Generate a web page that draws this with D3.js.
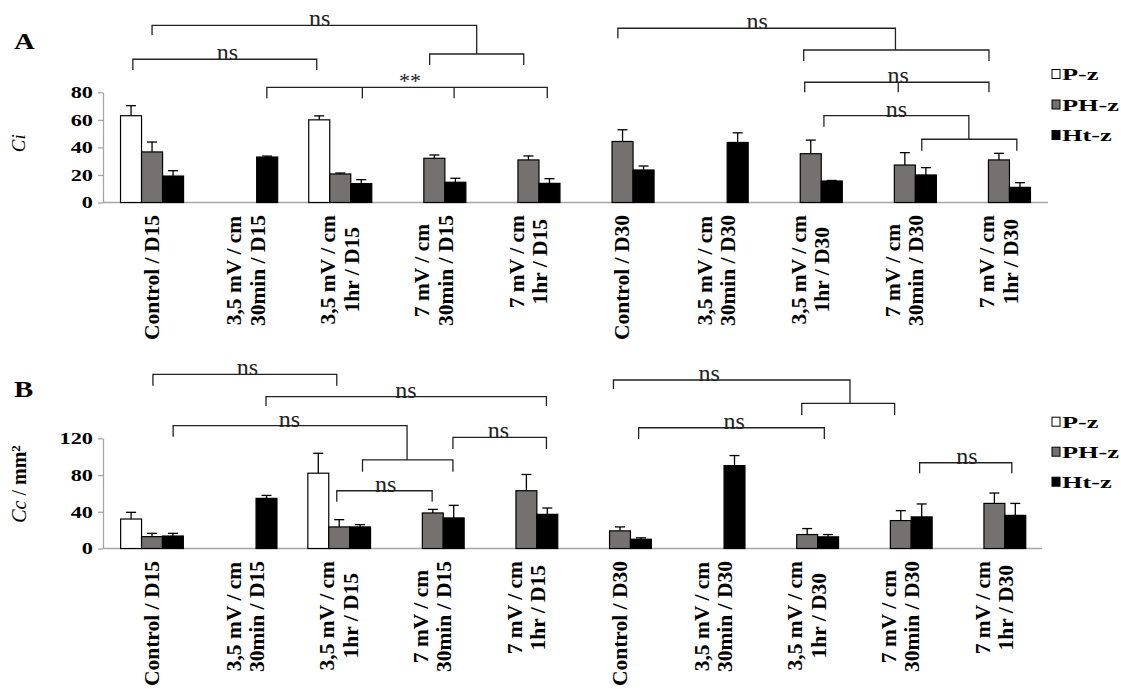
<!DOCTYPE html>
<html lang="en">
<head>
  <meta charset="utf-8">
  <script src="https://d3js.org/d3.v7.min.js"></script>
  <style>
    body { margin: 0; background: #fff; }
    text { font-family: "Liberation Serif", "Times New Roman", serif; fill: #000; }
  </style>
</head>
<body>
<script>
  var width = 1121,
      height = 689;

  // group labels, one array of lines per group
  var categories = [
    ["Control / D15"], ["3,5 mV / cm", "30min / D15"], ["3,5 mV / cm", "1hr / D15"],
    ["7 mV / cm", "30min / D15"], ["7 mV / cm", "1hr / D15"],
    ["Control / D30"], ["3,5 mV / cm", "30min / D30"], ["3,5 mV / cm", "1hr / D30"],
    ["7 mV / cm", "30min / D30"], ["7 mV / cm", "1hr / D30"]
  ];
  var seriesNames = ["P-z", "PH-z", "Ht-z"];
  var seriesColors = ["#ffffff", "#767171", "#000000"];

  // panel A : Ci
  var ciTicks = [0, 20, 40, 60, 80];
  var ciPz     = [63.0, null, 60.0, null, null, null, null, null, null, null];
  var ciPzErr  = [7.3, null, 2.9, null, null, null, null, null, null, null];
  var ciPhz    = [36.7, null, 20.7, 32.1, 30.9, 44.3, null, 35.4, 27.2, 30.9];
  var ciPhzErr = [7.2, null, 0.7, 2.4, 2.9, 8.5, null, 9.9, 9.0, 4.8];
  var ciHtz    = [19.2, 33.0, 13.7, 14.7, 13.9, 23.6, 43.6, 15.6, 20.0, 11.0];
  var ciHtzErr = [3.9, 0.7, 2.9, 2.9, 3.4, 2.9, 7.0, 0.4, 5.3, 3.4];

  // panel B : Cc / mm2
  var ccTicks = [0, 40, 80, 120];
  var ccPz     = [32.1, null, 82.0, null, null, null, null, null, null, null];
  var ccPzErr  = [7.3, null, 21.7, null, null, null, null, null, null, null];
  var ccPhz    = [12.9, null, 23.5, 38.7, 62.9, 19.2, null, 15.2, 30.4, 49.1];
  var ccPhzErr = [3.6, null, 7.9, 3.9, 17.7, 4.3, null, 6.5, 10.8, 11.3];
  var ccHtz    = [13.6, 54.6, 23.5, 33.3, 37.2, 10.1, 90.3, 12.7, 34.4, 36.1];
  var ccHtzErr = [2.9, 3.2, 2.5, 13.7, 6.9, 1.5, 10.9, 2.5, 14.1, 13.0];

  // significance brackets: x = group index, y = value on the panel scale
  var ciBrackets = [
    { label: "ns", at: [1.78, 128.6], lines: [[[0, 121.6], [0, 128.6], [3.45, 128.6], [3.45, 107.8]],
                                             [[2.95, 99.8], [2.95, 107.8], [3.95, 107.8], [3.95, 99.8]]] },
    { label: "ns", at: [0.80, 104.0], lines: [[[-0.204, 96.2], [-0.204, 104.0], [1.75, 104.0], [1.75, 96.2]]] },
    { label: "**", at: [2.74, 83.6], lines: [[[1.22, 75.6], [1.22, 83.6], [4.20, 83.6], [4.20, 75.6]],
                                            [[2.235, 83.6], [2.235, 75.6]], [[3.21, 83.6], [3.21, 75.6]]] },
    { label: "ns", at: [6.43, 126.5], lines: [[[4.95, 119.2], [4.95, 126.5], [7.90, 126.5], [7.90, 110.7]],
                                             [[6.925, 102.7], [6.925, 110.7], [8.894, 110.7], [8.894, 102.7]]] },
    { label: "ns", at: [7.93, 87.3], lines: [[[6.936, 80.0], [6.936, 87.3], [8.894, 87.3], [8.894, 80.0]],
                                            [[7.93, 87.3], [7.93, 80.0]]] },
    { label: "ns", at: [7.91, 63.0], lines: [[[7.14, 55.0], [7.14, 63.0], [8.68, 63.0], [8.68, 45.9]],
                                            [[8.18, 37.6], [8.18, 45.9], [9.19, 45.9], [9.19, 37.6]]] }
  ];
  var ccBrackets = [
    { label: "ns", at: [1.02, 189.7], lines: [[[0.01, 177.3], [0.01, 189.7], [1.974, 189.7], [1.974, 177.3]]] },
    { label: "ns", at: [2.714, 165.3], lines: [[[1.218, 155.2], [1.218, 165.3], [4.214, 165.3], [4.214, 155.2]]] },
    { label: "ns", at: [1.467, 133.7], lines: [[[0.226, 121.7], [0.226, 133.7], [2.725, 133.7], [2.725, 96.4]],
                                              [[2.249, 83.6], [2.249, 96.4], [3.215, 96.4], [3.215, 83.6]]] },
    { label: "ns", at: [3.70, 121.1], lines: [[[3.215, 108.4], [3.215, 121.1], [4.214, 121.1], [4.214, 108.4]]] },
    { label: "ns", at: [2.497, 62.9], lines: [[[1.974, 51.0], [1.974, 62.9], [2.993, 62.9], [2.993, 51.0]]] },
    { label: "ns", at: [5.954, 183.5], lines: [[[4.93, 173.7], [4.93, 183.5], [7.457, 183.5], [7.457, 158.1]],
                                              [[6.942, 145.4], [6.942, 158.1], [7.934, 158.1], [7.934, 145.4]]] },
    { label: "ns", at: [6.22, 131.5], lines: [[[5.199, 119.2], [5.199, 131.5], [7.183, 131.5], [7.183, 119.2]]] },
    { label: "ns", at: [8.707, 93.4], lines: [[[8.201, 81.9], [8.201, 93.4], [9.186, 93.4], [9.186, 81.9]]] }
  ];

  var svg = d3.select("body").append("svg")
      .attr("width", width)
      .attr("height", height);

  function drawPanel(p) {
    var keys = categories.map(function(c) { return c.join(" "); });
    var x = d3.scaleBand().domain(keys).range(p.xRange).paddingInner(0.33).paddingOuter(0.165);
    var xs = d3.scaleBand().domain(seriesNames).range([0, x.bandwidth()]);
    var y = d3.scaleLinear().domain([0, p.ticks[p.ticks.length - 1]]).range(p.yRange);
    // group index -> centre of group, used by the brackets
    var xi = d3.scaleLinear().domain([0, keys.length - 1])
        .range([x(keys[0]) + x.bandwidth() / 2, x(keys[keys.length - 1]) + x.bandwidth() / 2]);

    var g = svg.append("g");

    // category axis line
    g.append("line")
        .attr("x1", p.axisX).attr("x2", p.axisEnd)
        .attr("y1", y(0)).attr("y2", y(0))
        .style("stroke", "#a6a6a6").style("stroke-width", 1.5);

    // value axis
    var yAxis = g.append("g")
        .attr("transform", "translate(" + p.axisX + ",0)")
        .call(d3.axisLeft(y).tickValues(p.ticks).tickSize(5).tickSizeOuter(0));
    yAxis.select(".domain").style("stroke", "#a6a6a6").style("stroke-width", 1.3);
    yAxis.selectAll(".tick line").style("stroke", "#a6a6a6").style("stroke-width", 1.3);
    yAxis.selectAll(".tick text")
        .attr("x", -10 / 1.35)
        .attr("transform", "scale(1.35,1)")
        .style("font-size", "16.5px").style("font-weight", "bold");

    // bars + error bars
    seriesNames.forEach(function(s, si) {
      var vals = p.values[si], errs = p.errors[si];
      var rows = keys.map(function(k, i) { return { key: k, v: vals[i], e: errs[i] }; })
                     .filter(function(d) { return d.v != null; });
      var sg = g.append("g");
      sg.selectAll("rect").data(rows).enter().append("rect")
          .attr("x", function(d) { return x(d.key) + xs(s); })
          .attr("y", function(d) { return y(d.v); })
          .attr("width", xs.bandwidth())
          .attr("height", function(d) { return y(0) - y(d.v); })
          .style("fill", seriesColors[si])
          .style("stroke", "#000").style("stroke-width", 1.2);
      var eb = sg.selectAll("g.err").data(rows).enter().append("g").attr("class", "err");
      eb.append("line")
          .attr("x1", function(d) { return x(d.key) + xs(s) + xs.bandwidth() / 2; })
          .attr("x2", function(d) { return x(d.key) + xs(s) + xs.bandwidth() / 2; })
          .attr("y1", function(d) { return y(d.v); })
          .attr("y2", function(d) { return y(d.v + d.e); });
      eb.append("line")
          .attr("x1", function(d) { return x(d.key) + xs(s) + xs.bandwidth() / 2 - 5; })
          .attr("x2", function(d) { return x(d.key) + xs(s) + xs.bandwidth() / 2 + 5; })
          .attr("y1", function(d) { return y(d.v + d.e); })
          .attr("y2", function(d) { return y(d.v + d.e); });
      eb.selectAll("line").style("stroke", "#000").style("stroke-width", 1.3);
    });

    // rotated group labels, lines centred in a block that starts below the axis
    var lineGap = 23.5, fs = 21.5;
    categories.forEach(function(lines, i) {
      var cx = x(keys[i]) + x.bandwidth() / 2;
      var lg = g.append("g");
      var texts = lines.map(function(t, li) {
        return lg.append("text")
            .attr("text-anchor", "middle")
            .attr("x", 0)
            .attr("y", (li - (lines.length - 1) / 2) * lineGap + 0.32 * fs)
            .style("font-size", fs + "px").style("font-weight", "bold")
            .text(t);
      });
      var L = d3.max(texts, function(t) { return t.node().getComputedTextLength(); });
      lg.attr("transform", "translate(" + cx + "," + (y(0) + 12.5 + L / 2) + ") rotate(-90)");
    });

    // brackets
    var line = d3.line().x(function(d) { return xi(d[0]); }).y(function(d) { return y(d[1]); });
    p.brackets.forEach(function(b) {
      b.lines.forEach(function(l) {
        g.append("path").attr("d", line(l))
            .style("fill", "none").style("stroke", "#222").style("stroke-width", 1.3);
      });
      g.append("text")
          .attr("x", xi(b.at[0]))
          .attr("y", y(b.at[1]) + 1)
          .attr("text-anchor", "middle")
          .style("font-size", b.label == "**" ? "22px" : "24px")
          .style("fill", "#222")
          .text(b.label);
    });

    // legend
    seriesNames.forEach(function(s, si) {
      var ly = p.legendY[si];
      g.append("rect")
          .attr("x", p.legendX).attr("y", ly - 4.5)
          .attr("width", 8).attr("height", 9)
          .style("fill", seriesColors[si]).style("stroke", "#000").style("stroke-width", 1);
      g.append("text")
          .attr("transform", "translate(" + (p.legendX + 10) + "," + (ly + 6) + ") scale(1.55,1)")
          .style("font-size", "17px").style("font-weight", "bold")
          .text(s);
    });

    // panel letter
    g.append("text")
        .attr("transform", "translate(14," + p.letterY + ") scale(1.2,1)")
        .style("font-size", "24px").style("font-weight", "bold")
        .text(p.letter);

    // value axis title
    var t = g.append("text")
        .attr("transform", "translate(" + p.titleX + "," + p.titleY + ") rotate(-90)")
        .attr("text-anchor", "middle")
        .style("font-size", p.titleSize + "px");
    p.title.forEach(function(part) {
      var ts = t.append("tspan").text(part.t);
      if (part.italic) ts.style("font-style", "italic");
      if (part.bold) ts.style("font-weight", "bold");
      if (part.sup) ts.attr("dy", "-0.45em").style("font-size", "0.65em");
    });
  }

  drawPanel({
    letter: "A", letterY: 48.5,
    ticks: ciTicks,
    values: [ciPz, ciPhz, ciHtz],
    errors: [ciPzErr, ciPhzErr, ciHtzErr],
    brackets: ciBrackets,
    xRange: [105, 1046], yRange: [202.5, 92.3],
    axisX: 103, axisEnd: 1048,
    legendX: 1052, legendY: [74, 104.5, 135],
    title: [{ t: "Ci", italic: true }], titleX: 25, titleY: 143.3, titleSize: 19
  });

  drawPanel({
    letter: "B", letterY: 397,
    ticks: ccTicks,
    values: [ccPz, ccPhz, ccHtz],
    errors: [ccPzErr, ccPhzErr, ccHtzErr],
    brackets: ccBrackets,
    xRange: [105.2, 1041.2], yRange: [548.5, 438.3],
    axisX: 103, axisEnd: 1042,
    legendX: 1052, legendY: [421.7, 451.7, 481.7],
    title: [{ t: "Cc", italic: true }, { t: " / " }, { t: "mm", bold: true }, { t: "2", bold: true, sup: true }],
    titleX: 26, titleY: 484, titleSize: 20
  });
</script>
</body>
</html>
